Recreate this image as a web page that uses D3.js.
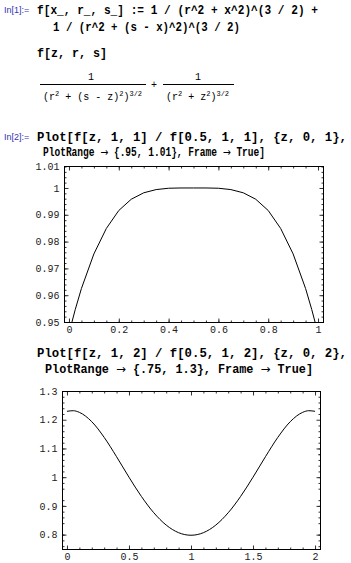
<!DOCTYPE html>
<html>
<head>
<meta charset="utf-8">
<script src="https://cdn.jsdelivr.net/npm/d3@7"></script>
<style>
  body { margin: 0; background: #fff; }
  svg { display: block; }
</style>
</head>
<body>
<svg id="nb" width="351" height="563"></svg>
<script>
// Plot 1: f[z,1,1]/f[0.5,1,1]
var z1 = [0, 0.025, 0.05, 0.1, 0.15, 0.2, 0.25, 0.3, 0.35, 0.4, 0.45, 0.5,
          0.55, 0.6, 0.65, 0.7, 0.75, 0.8, 0.85, 0.9, 0.95, 0.975, 1];
var ratio1 = [0.9458, 0.9546, 0.9625, 0.9754, 0.9849, 0.9916, 0.9958, 0.9982, 0.9994, 0.9999, 1.0, 1.0,
              1.0, 0.9999, 0.9994, 0.9982, 0.9958, 0.9916, 0.9849, 0.9754, 0.9625, 0.9546, 0.9458];
var xTicks1 = [0, 0.2, 0.4, 0.6, 0.8, 1];
var yTicks1 = [0.95, 0.96, 0.97, 0.98, 0.99, 1, 1.01];

// Plot 2: f[z,1,2]/f[0.5,1,2]
var z2 = [0, 0.05, 0.1, 0.2, 0.3, 0.4, 0.5, 0.6, 0.7, 0.8, 0.9, 1,
          1.1, 1.2, 1.3, 1.4, 1.5, 1.6, 1.7, 1.8, 1.9, 1.95, 2];
var ratio2 = [1.2293, 1.2314, 1.2257, 1.1932, 1.1386, 1.0712, 1.0, 0.9330, 0.8762, 0.8333, 0.8068, 0.7979,
              0.8068, 0.8333, 0.8762, 0.9330, 1.0, 1.0712, 1.1386, 1.1932, 1.2257, 1.2314, 1.2293];
var xTicks2 = [0, 0.5, 1, 1.5, 2];
var yTicks2 = [0.8, 0.9, 1, 1.1, 1.2, 1.3];

var svg = d3.select("#nb");
var inputFont = "'Liberation Mono', 'Courier New', monospace";

function inLabel(txt, x, y) {
    svg.append("text").attr("x", x).attr("y", y)
        .attr("font-family", "'Liberation Sans', Arial, sans-serif")
        .attr("font-size", 9).attr("fill", "#3434b4").text(txt);
}

// arrows get a font with a bigger glyph, like Mathematica's →
function codeLine(txt, x, y, w) {
    var t = svg.append("text").attr("x", x).attr("y", y)
        .attr("font-family", inputFont).attr("font-weight", "bold")
        .attr("font-size", 12).attr("fill", "#000")
        .attr("textLength", w).attr("lengthAdjust", "spacingAndGlyphs");
    txt.split("\u2192").forEach(function(part, i) {
        if (i > 0) t.append("tspan").attr("font-family", "'DejaVu Sans', sans-serif")
            .attr("font-weight", "normal").text("\u2192");
        t.append("tspan").text(part);
    });
}

// ---- In[1]
inLabel("In[1]:=", 4, 13);
codeLine("f[x_, r_, s_] := 1 / (r^2 + x^2)^(3 / 2) +", 37, 14, 281);
codeLine("1 / (r^2 + (s - x)^2)^(3 / 2)", 53, 31, 187);
codeLine("f[z, r, s]", 37, 57, 70);

// output fraction
function denominator(parts, x, y) {
    var t = svg.append("text").attr("x", x).attr("y", y)
        .attr("font-family", inputFont).attr("font-size", 10).attr("fill", "#000");
    parts.forEach(function(p) {
        t.append("tspan")
            .attr("font-size", p.sup ? 7 : 10)
            .attr("dy", p.sup ? -4 : (p.back ? 4 : 0))
            .text(p.t);
    });
}
svg.append("text").attr("x", 91).attr("y", 80).attr("text-anchor", "middle")
    .attr("font-family", inputFont).attr("font-size", 10).text("1");
svg.append("text").attr("x", 198).attr("y", 80).attr("text-anchor", "middle")
    .attr("font-family", inputFont).attr("font-size", 10).text("1");
svg.append("line").attr("x1", 40).attr("x2", 146).attr("y1", 84.5).attr("y2", 84.5)
    .attr("stroke", "#000").attr("stroke-width", 1);
svg.append("line").attr("x1", 163).attr("x2", 234).attr("y1", 84.5).attr("y2", 84.5)
    .attr("stroke", "#000").attr("stroke-width", 1);
svg.append("text").attr("x", 154).attr("y", 88).attr("text-anchor", "middle")
    .attr("font-family", inputFont).attr("font-size", 10).text("+");
denominator([{t: "(r"}, {t: "2", sup: true}, {t: " + (s - z)", back: true}, {t: "2", sup: true},
             {t: ")", back: true}, {t: "3/2", sup: true}], 43, 100);
denominator([{t: "(r"}, {t: "2", sup: true}, {t: " + z", back: true}, {t: "2", sup: true},
             {t: ")", back: true}, {t: "3/2", sup: true}], 166, 100);

// ---- In[2]
inLabel("In[2]:=", 4, 140);
codeLine("Plot[f[z, 1, 1] / f[0.5, 1, 1], {z, 0, 1},", 37, 141, 310);
codeLine("PlotRange \u2192 {.95, 1.01}, Frame \u2192 True]", 43, 156, 222);

codeLine("Plot[f[z, 1, 2] / f[0.5, 1, 2], {z, 0, 2},", 37, 357, 310);
codeLine("PlotRange \u2192 {.75, 1.3}, Frame \u2192 True]", 45, 373, 268);

function fmt(d) { return String(+d.toFixed(3)); }

function drawPlot(cfg, id) {
    var x = d3.scaleLinear().domain(cfg.xDom).range([cfg.left, cfg.right]);
    var y = d3.scaleLinear().domain(cfg.yDom).range([cfg.bottom, cfg.top]);
    var yAxisScale = y.copy().clamp(true);   // top label sits on the frame edge
    var g = svg.append("g");

    var xMinor = d3.range(cfg.xDom[0] - cfg.xMinor, cfg.xDom[1] + cfg.xMinor, cfg.xMinor)
        .map(function(v) { return Math.round(v / cfg.xMinor) * cfg.xMinor; })
        .filter(function(v) { return v >= cfg.xDom[0] && v <= cfg.xDom[1]; });
    var yMinor = d3.range(cfg.yDom[0] - cfg.yMinor, cfg.yDom[1] + cfg.yMinor, cfg.yMinor)
        .map(function(v) { return Math.round(v / cfg.yMinor) * cfg.yMinor; })
        .filter(function(v) { return v >= cfg.yDom[0] - 1e-9 && v <= cfg.yDom[1] + 1e-9; });

    function axis(gen, pos, vals, size, labels) {
        var a = gen.tickValues(vals).tickSize(size).tickPadding(labels === "b" ? 3 : 5)
            .tickFormat(labels ? fmt : "");
        var ax = g.append("g").attr("transform", pos).call(a);
        ax.select(".domain").remove();
        ax.selectAll("line").attr("stroke", "#333").attr("stroke-width", 1);
        ax.selectAll("text").attr("font-family", inputFont).attr("font-size", 10).attr("fill", "#222");
        return ax;
    }
    var bx = "translate(0," + (cfg.bottom + 0.5) + ")", tx = "translate(0," + (cfg.top + 0.5) + ")";
    var lx = "translate(" + (cfg.left + 0.5) + ",0)", rx = "translate(" + (cfg.right + 0.5) + ",0)";
    axis(d3.axisBottom(x), bx, xMinor, -2, false);
    axis(d3.axisTop(x), tx, xMinor, -2, false);
    axis(d3.axisLeft(y), lx, yMinor, -2, false);
    axis(d3.axisRight(y), rx, yMinor, -2, false);
    axis(d3.axisBottom(x), bx, cfg.xTicks, -4, "b");
    axis(d3.axisTop(x), tx, cfg.xTicks, -4, false);
    axis(d3.axisLeft(yAxisScale), lx, cfg.yTicks, -4, "l");
    axis(d3.axisRight(yAxisScale), rx, cfg.yTicks.filter(function(v) { return v <= cfg.yDom[1]; }), -4, false);

    g.append("rect")
        .attr("x", cfg.left + 0.5).attr("y", cfg.top + 0.5)
        .attr("width", cfg.right - cfg.left).attr("height", cfg.bottom - cfg.top)
        .attr("fill", "none").attr("stroke", "#000").attr("stroke-width", 1);

    g.append("clipPath").attr("id", id)
        .append("rect").attr("x", cfg.left).attr("y", cfg.top)
        .attr("width", cfg.right - cfg.left + 1).attr("height", cfg.bottom - cfg.top + 1);

    var line = d3.line()
        .x(function(d, i) { return x(cfg.xs[i]); })
        .y(function(d) { return y(d); })
        .curve(cfg.curve);
    g.append("path").datum(cfg.ys)
        .attr("clip-path", "url(#" + id + ")")
        .attr("d", line)
        .attr("fill", "none").attr("stroke", "#000").attr("stroke-width", 1);
}

drawPlot({
    left: 64, right: 323, top: 166, bottom: 322,
    xDom: [-0.02, 1.02], yDom: [0.95, 1.0082],
    xTicks: xTicks1, yTicks: yTicks1, xMinor: 0.05, yMinor: 0.002,
    xs: z1, ys: ratio1, curve: d3.curveLinear
}, "clip1");

drawPlot({
    left: 62, right: 320, top: 391, bottom: 549,
    xDom: [-0.04, 2.04], yDom: [0.75, 1.3],
    xTicks: xTicks2, yTicks: yTicks2, xMinor: 0.1, yMinor: 0.02,
    xs: z2, ys: ratio2, curve: d3.curveMonotoneX
}, "clip2");
</script>
</body>
</html>
